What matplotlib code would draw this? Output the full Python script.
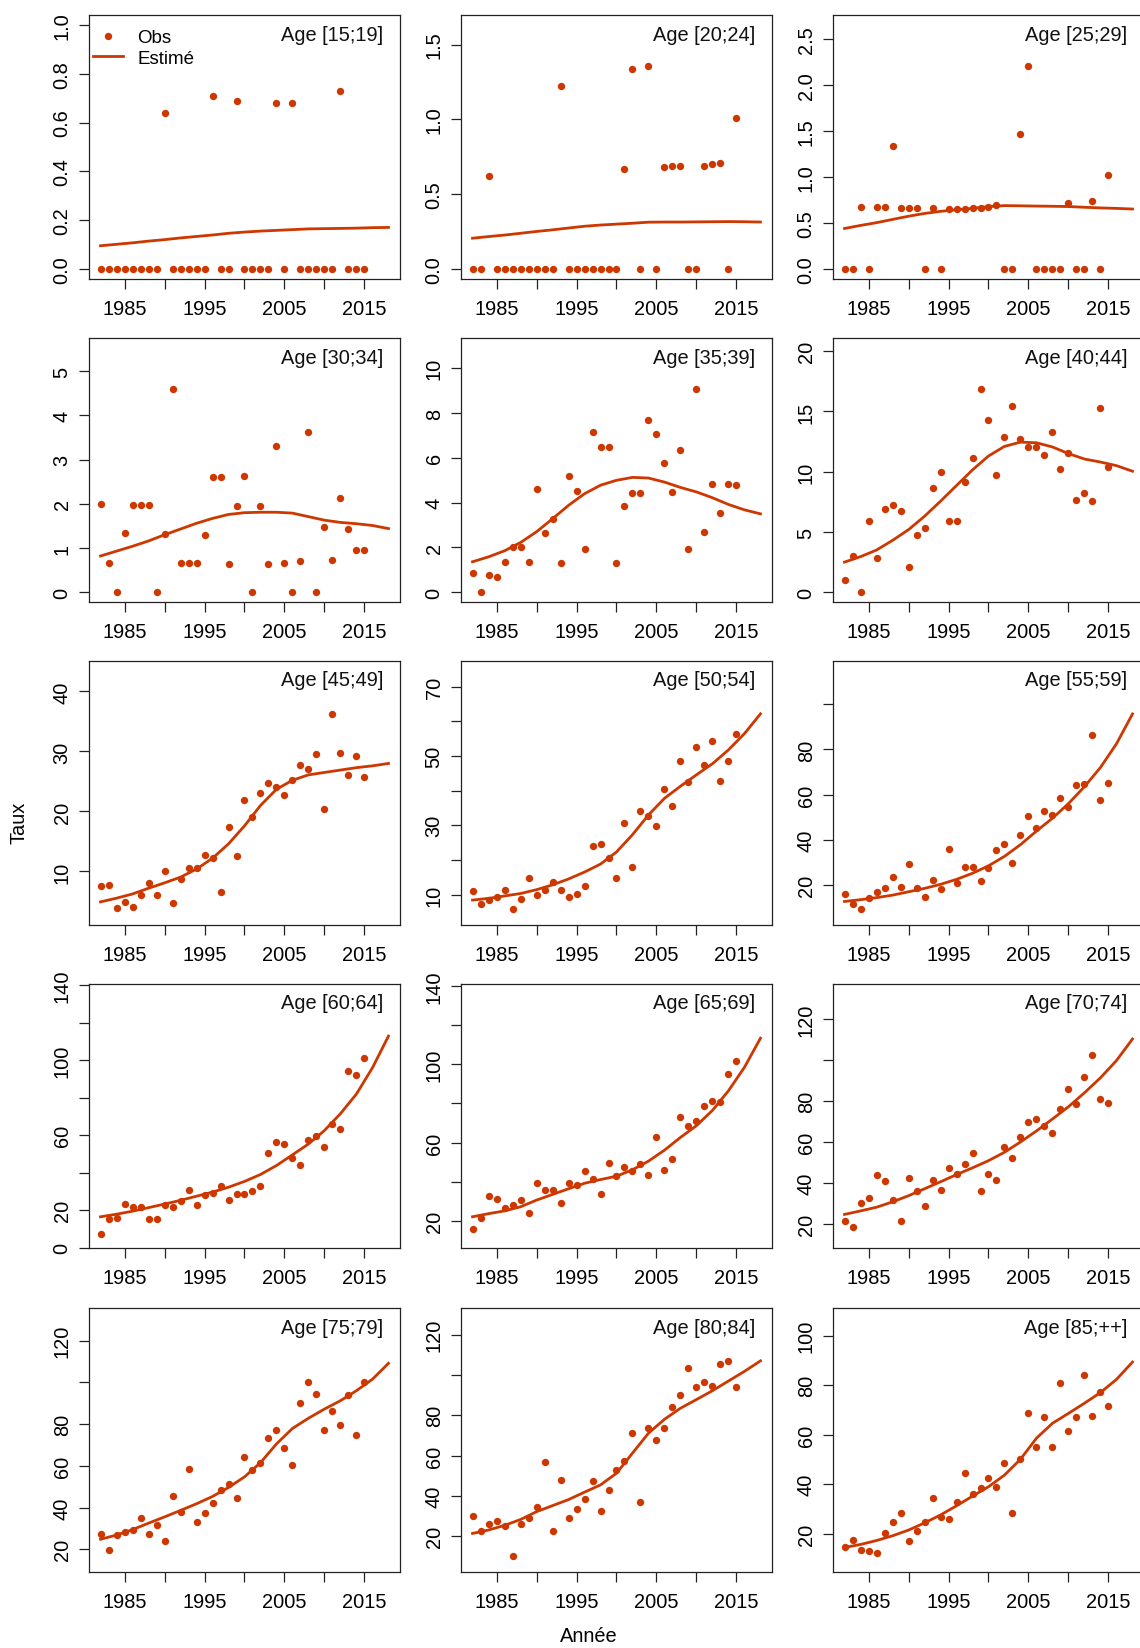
import numpy as np
import matplotlib
matplotlib.use("Agg")
import matplotlib.pyplot as plt
from matplotlib.lines import Line2D

plt.rcParams['font.family'] = ['Liberation Sans', 'DejaVu Sans']

RED = '#CD3700'

years_obs = np.arange(1982, 2016)
years_fit = np.arange(1982, 2019, 2)

# observed rates, 1982..2015
obs_15_19 = [0, 0, 0, 0, 0, 0, 0, 0, 0.64, 0, 0, 0, 0, 0, 0.71, 0, 0, 0.69, 0, 0, 0, 0, 0.68, 0,
             0.68, 0, 0, 0, 0, 0, 0.73, 0, 0, 0]
obs_20_24 = [0, 0, 0.62, 0, 0, 0, 0, 0, 0, 0, 0, 1.22, 0, 0, 0, 0, 0, 0, 0, 0.67, 1.34, 0, 1.36, 0,
             0.68, 0.69, 0.69, 0, 0, 0.69, 0.70, 0.71, 0, 1.01]
obs_25_29 = [0, 0, 0.67, 0, 0.68, 0.68, 1.34, 0.66, 0.66, 0.66, 0, 0.66, 0, 0.655, 0.655, 0.655,
             0.66, 0.665, 0.68, 0.70, 0, 0, 1.47, 2.21, 0, 0, 0, 0, 0.72, 0, 0, 0.74, 0, 1.02]
obs_30_34 = [2.0, 0.67, 0, 1.33, 1.97, 1.97, 1.97, 0, 1.31, 4.61, 0.66, 0.66, 0.66, 1.30, 2.61, 2.60,
             0.65, 1.95, 2.62, 0, 1.96, 0.65, 3.30, 0.67, 0, 0.70, 3.62, 0, 1.48, 0.72, 2.14, 1.42,
             0.95, 0.95]
obs_35_39 = [0.85, 0, 0.75, 0.70, 1.35, 2.0, 2.0, 1.33, 4.63, 2.63, 3.27, 1.30, 5.20, 4.54, 1.94,
             7.16, 6.50, 6.47, 1.29, 3.83, 4.45, 4.45, 7.70, 7.07, 5.78, 4.47, 6.35, 1.91, 9.10,
             2.68, 4.84, 3.56, 4.84, 4.81]
obs_40_44 = [1.0, 3.02, 0, 5.91, 2.80, 6.93, 7.24, 6.74, 2.11, 4.72, 5.33, 8.63, 9.96, 5.94, 5.94,
             9.15, 11.1, 16.9, 14.26, 9.71, 12.9, 15.42, 12.73, 12.07, 12.01, 11.37, 13.31, 10.21,
             11.57, 7.68, 8.24, 7.57, 15.26, 10.35]
obs_45_49 = [7.6, 7.7, 3.87, 4.93, 4.04, 6.16, 8.16, 6.1, 10.06, 4.71, 8.72, 10.56, 10.56, 12.67,
             12.17, 6.66, 17.33, 12.6, 21.9, 19.1, 23.0, 24.8, 24.0, 22.7, 25.2, 27.8, 27.1, 29.5,
             20.4, 36.2, 29.8, 26.1, 29.2, 25.8]
obs_50_54 = [11.0, 7.3, 8.3, 9.3, 11.35, 5.76, 8.75, 14.8, 10.0, 11.25, 13.5, 11.35, 9.2, 10.2, 12.5,
             23.9, 24.6, 20.5, 14.9, 30.7, 18.1, 34.0, 32.7, 29.9, 40.5, 35.7, 48.6, 42.6, 52.7,
             47.4, 54.3, 42.9, 48.7, 56.4]
obs_55_59 = [16.1, 11.4, 9.3, 14.2, 16.9, 18.7, 23.6, 19.0, 29.3, 18.4, 14.8, 21.9, 18.1, 35.7, 20.7,
             28.1, 28.1, 21.8, 27.6, 35.6, 38.1, 29.5, 41.9, 50.5, 45.2, 52.7, 51.1, 58.5, 54.5,
             64.4, 64.7, 86.4, 57.5, 65.3]
obs_60_64 = [7.1, 15.2, 15.9, 23.2, 21.4, 21.4, 15.3, 15.3, 22.8, 21.9, 24.8, 30.7, 22.8, 27.8, 29.2,
             33.0, 25.3, 28.5, 28.7, 30.3, 32.6, 50.5, 56.4, 55.5, 47.6, 43.9, 57.2, 59.6, 53.5,
             66.0, 63.3, 94.3, 92.2, 101.1]
obs_65_69 = [16.1, 21.4, 32.6, 31.2, 26.6, 28.2, 30.9, 24.1, 39.6, 35.7, 35.7, 29.4, 39.2, 38.2, 45.7,
             41.6, 33.8, 49.6, 42.8, 47.4, 45.7, 49.3, 43.5, 62.9, 45.9, 51.7, 73.1, 68.7, 71.2,
             78.6, 81.4, 80.9, 95.2, 101.9]
obs_70_74 = [21.3, 18.7, 30.1, 32.5, 44.1, 41.1, 31.9, 21.3, 42.6, 36.1, 28.6, 41.3, 36.7, 47.3, 44.2,
             49.4, 54.6, 36.1, 44.2, 41.5, 57.7, 52.2, 62.3, 69.9, 71.1, 68.0, 64.6, 75.9, 85.9,
             78.5, 91.5, 102.4, 80.8, 78.9]
obs_75_79 = [27.5, 19.7, 26.7, 28.2, 29.4, 35.2, 27.5, 31.7, 24.0, 45.4, 37.8, 58.4, 33.0, 37.4, 42.2,
             48.6, 51.4, 44.5, 64.3, 58.1, 61.1, 73.4, 77.3, 68.3, 60.6, 90.2, 100.2, 94.4, 77.3,
             86.2, 79.4, 93.9, 74.9, 100.3]
obs_80_84 = [30.0, 22.3, 26.1, 27.5, 24.8, 10.0, 26.0, 29.1, 34.6, 56.9, 22.3, 47.6, 28.8, 33.5, 38.3,
             47.1, 32.5, 43.1, 52.9, 57.2, 71.0, 37.1, 73.8, 67.7, 73.8, 84.1, 89.9, 103.7, 93.9,
             96.7, 94.3, 105.5, 106.7, 93.9]
obs_85_up = [14.6, 17.4, 13.4, 12.9, 12.2, 20.3, 24.6, 28.6, 17.3, 21.3, 24.7, 34.6, 26.9, 25.8, 32.7,
             44.6, 36.0, 38.5, 42.4, 38.8, 48.7, 28.6, 50.1, 68.9, 55.0, 67.3, 55.1, 81.0, 61.6,
             67.0, 84.1, 67.7, 77.1, 71.6]

# fitted curve, every 2 years 1982..2018
fit_15_19 = [.096, .102, .108, .115, .121, .128, .134, .140, .147, .152, .156, .159, .162, .165,
             .166, .167, .168, .170, .171]
fit_20_24 = [.207, .218, .228, .240, .252, .263, .275, .287, .295, .301, .307, .314, .315, .315,
             .316, .317, .318, .317, .315]
fit_25_29 = [.442, .475, .505, .540, .575, .605, .628, .645, .660, .680, .690, .688, .685, .683,
             .680, .672, .665, .660, .653]
fit_30_34 = [.82, .93, 1.04, 1.16, 1.30, 1.43, 1.56, 1.67, 1.76, 1.80, 1.81, 1.81, 1.79, 1.71,
             1.63, 1.58, 1.55, 1.51, 1.44]
fit_35_39 = [1.36, 1.58, 1.85, 2.22, 2.70, 3.28, 3.88, 4.40, 4.78, 5.00, 5.13, 5.10, 4.92, 4.68,
             4.48, 4.22, 3.92, 3.68, 3.50]
fit_40_44 = [2.50, 2.95, 3.50, 4.30, 5.19, 6.30, 7.55, 8.85, 10.15, 11.30, 12.10, 12.45, 12.40,
             12.05, 11.50, 11.05, 10.80, 10.50, 10.04]
fit_45_49 = [4.93, 5.55, 6.25, 7.2, 8.1, 9.05, 10.4, 12.2, 14.6, 17.6, 21.0, 23.7, 25.2, 26.1,
             26.5, 26.9, 27.3, 27.6, 28.0]
fit_50_54 = [8.4, 8.9, 9.6, 10.3, 11.4, 12.8, 14.5, 16.5, 18.8, 22.3, 27.3, 33.0, 37.8, 41.3,
             44.6, 47.8, 51.8, 56.5, 62.2]
fit_55_59 = [12.6, 13.4, 14.3, 15.4, 16.9, 18.4, 20.2, 22.4, 25.1, 28.4, 32.6, 37.8, 43.8, 49.5,
             56.0, 63.5, 72.0, 82.5, 95.7]
fit_60_64 = [16.4, 17.8, 19.4, 21.3, 23.2, 25.2, 27.4, 29.6, 32.2, 35.3, 39.0, 43.8, 49.5, 55.3,
             62.5, 71.5, 82.0, 96.0, 112.9]
fit_65_69 = [22.2, 23.8, 25.2, 27.3, 30.7, 33.6, 36.5, 39.3, 41.2, 42.9, 46.2, 50.6, 56.2, 62.7,
             68.7, 76.5, 86.5, 98.5, 113.3]
fit_70_74 = [24.7, 26.4, 28.2, 30.8, 33.8, 37.2, 40.6, 44.1, 47.4, 50.9, 55.0, 60.0, 65.4, 71.2,
             77.2, 84.0, 91.3, 99.7, 110.2]
fit_75_79 = [24.8, 26.8, 29.4, 32.5, 35.5, 38.6, 41.8, 45.3, 49.6, 54.7, 61.5, 70.5, 77.9, 82.8,
             87.2, 91.2, 96.0, 101.5, 109.1]
fit_80_84 = [21.3, 23.0, 25.3, 28.2, 32.1, 35.1, 38.1, 41.8, 45.4, 51.2, 61.2, 71.1, 78.0, 83.5,
             87.8, 92.2, 97.0, 101.8, 107.0]
fit_85_up = [14.5, 15.7, 17.3, 19.2, 21.5, 24.4, 27.6, 31.3, 35.2, 39.0, 43.7, 50.1, 58.6, 64.6,
             68.6, 72.7, 77.0, 82.3, 89.3]

age_labels = ['[15;19]', '[20;24]', '[25;29]', '[30;34]', '[35;39]', '[40;44]', '[45;49]',
              '[50;54]', '[55;59]', '[60;64]', '[65;69]', '[70;74]', '[75;79]', '[80;84]',
              '[85;++]']
obs_all = [obs_15_19, obs_20_24, obs_25_29, obs_30_34, obs_35_39, obs_40_44, obs_45_49, obs_50_54,
           obs_55_59, obs_60_64, obs_65_69, obs_70_74, obs_75_79, obs_80_84, obs_85_up]
fit_all = [fit_15_19, fit_20_24, fit_25_29, fit_30_34, fit_35_39, fit_40_44, fit_45_49, fit_50_54,
           fit_55_59, fit_60_64, fit_65_69, fit_70_74, fit_75_79, fit_80_84, fit_85_up]

# y ticks per panel, and which tick labels are dropped (overlap in the original)
yticks_all = [
    [0, 0.2, 0.4, 0.6, 0.8, 1.0], [0, 0.5, 1.0, 1.5], [0, 0.5, 1.0, 1.5, 2.0, 2.5],
    [0, 1, 2, 3, 4, 5], [0, 2, 4, 6, 8, 10], [0, 5, 10, 15, 20],
    [10, 20, 30, 40], [10, 20, 30, 40, 50, 60, 70], [20, 40, 60, 80, 100],
    [0, 20, 40, 60, 80, 100, 120, 140], [20, 40, 60, 80, 100, 120, 140], [20, 40, 60, 80, 100, 120],
    [20, 40, 60, 80, 100, 120], [20, 40, 60, 80, 100, 120], [20, 40, 60, 80, 100],
]
yhide_all = [[], [], [], [], [], [], [], [20, 40, 60], [100], [40, 80, 120], [40, 80, 120],
             [100], [100], [100], []]
decimals = [1, 1, 1, 0, 0, 0, 0, 0, 0, 0, 0, 0, 0, 0, 0]

W, H = 1140, 1649
fig = plt.figure(figsize=(W / 100, H / 100), dpi=100)
col_left = [89, 461, 833]
row_top = [16, 339, 662, 985, 1309]
pw, ph = 311, 264
FS = 14.4

for i in range(15):
    r, c = divmod(i, 3)
    ax = fig.add_axes([col_left[c] / W, 1 - (row_top[r] + ph) / H, pw / W, ph / H])
    obs, fit = obs_all[i], fit_all[i]
    ax.plot(years_fit, fit, color=RED, lw=2.0, zorder=2, solid_joinstyle='round')
    ax.plot(years_obs, obs, 'o', color=RED, ms=5.3, mec='none', zorder=3)

    xr = years_fit[-1] - years_fit[0]
    ax.set_xlim(years_fit[0] - 0.04 * xr, years_fit[-1] + 0.04 * xr)
    lo = 0.7 * min(min(obs), min(fit))
    hi = 1.2 * max(max(obs), max(fit))
    if i == 0:
        hi = 1.0
    yr = hi - lo
    ax.set_ylim(lo - 0.04 * yr, hi + 0.04 * yr)

    ax.set_xticks([1985, 1990, 1995, 2000, 2005, 2010, 2015])
    ax.set_xticklabels(['1985', '', '1995', '', '2005', '', '2015'])
    yt = yticks_all[i]
    ax.set_yticks(yt)
    labs = []
    for v in yt:
        if v in yhide_all[i]:
            labs.append('')
        elif decimals[i]:
            labs.append('%.1f' % v)
        else:
            labs.append('%d' % v)
    ax.set_yticklabels(labs, rotation=90, va='center')
    ax.tick_params(direction='out', length=7.5, width=0.9, labelsize=FS, color='#222222')
    ax.tick_params(axis='x', pad=7)
    ax.tick_params(axis='y', pad=5)
    for s in ax.spines.values():
        s.set_linewidth(0.9)
        s.set_color('#222222')

    ax.text(1 - 16.5 / pw, 1 - 19 / ph, 'Age ' + age_labels[i], transform=ax.transAxes,
            ha='right', va='center', fontsize=FS, color='#111111')

    if i == 0:
        handles = [Line2D([], [], marker='o', ls='none', color=RED, ms=5.3, mec='none'),
                   Line2D([], [], color=RED, lw=2.0)]
        ax.legend(handles, ['Obs', 'Estimé'], loc='upper left', frameon=False, fontsize=13.5,
                  bbox_to_anchor=(4 / pw, 1 - 14 / ph), borderaxespad=0, borderpad=0,
                  handlelength=1.6, handletextpad=0.75, labelspacing=0.2)

fig.text(19 / W, 1 - 823 / H, 'Taux', rotation=90, ha='center', va='center', fontsize=FS)
fig.text(589 / W, 1 - 1637 / H, 'Année', ha='center', va='center', fontsize=FS)

fig.savefig('out.png', dpi=100)
